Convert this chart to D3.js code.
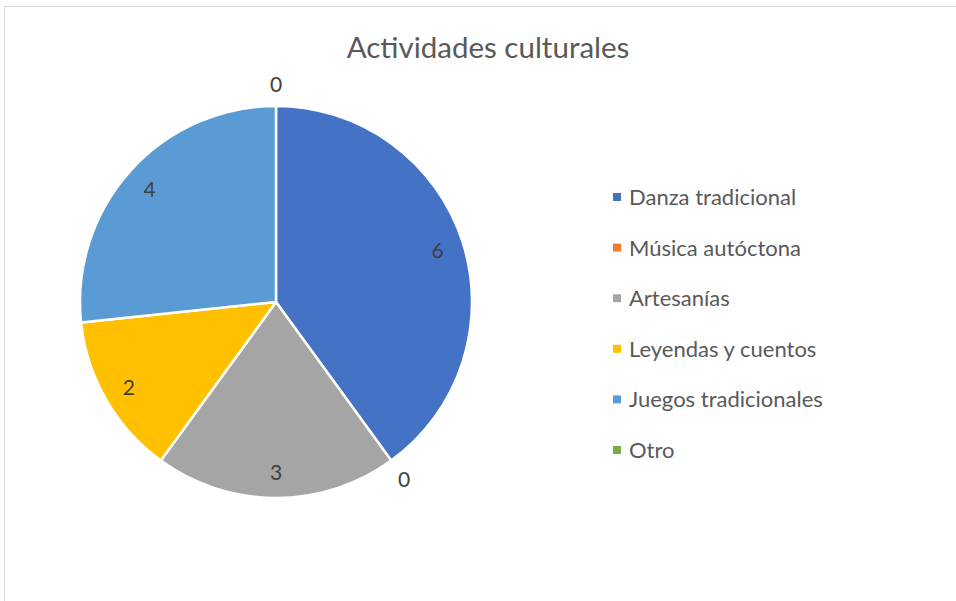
<!doctype html>
<html lang="es">
  <head>
    <meta charset="UTF-8" />
    <title>Actividades culturales</title>
    <script src="https://d3js.org/d3.v7.min.js"></script>
    <style>
      html,
      body {
        margin: 0;
        padding: 0;
        background: #fff;
        overflow: hidden;
      }
      text {
        font-family: Lato, "Liberation Sans", sans-serif;
        fill: #595959;
      }
    </style>
  </head>
  <body>
    <svg id="chart" width="956" height="601"></svg>

    <script>
      // data
      const categories = [
        "Danza tradicional",
        "Música autóctona",
        "Artesanías",
        "Leyendas y cuentos",
        "Juegos tradicionales",
        "Otro",
      ];
      const values = [6, 0, 3, 2, 4, 0];
      const colors = ["#4472c4", "#ed7d31", "#a5a5a5", "#ffc000", "#5b9bd5", "#70ad47"];

      const svg = d3.select("#chart");

      // chart frame (runs off the right and bottom edge)
      svg
        .append("rect")
        .attr("x", 4.5)
        .attr("y", 6.5)
        .attr("width", 1000)
        .attr("height", 700)
        .attr("fill", "none")
        .attr("stroke", "#d9d9d9");

      svg
        .append("text")
        .attr("x", 488)
        .attr("y", 58)
        .attr("text-anchor", "middle")
        .style("font-size", "29.5px")
        .text("Actividades culturales");

      const cx = 276,
        cy = 302,
        radius = 196;

      const data = categories.map((c, i) => ({ name: c, value: values[i], color: colors[i] }));

      const pie = d3.pie().sort(null).value((d) => d.value);
      const arcs = pie(data);

      const arc = d3.arc().innerRadius(0).outerRadius(radius);
      const inLabel = d3.arc().innerRadius(170).outerRadius(170);
      const outLabel = d3.arc().innerRadius(218).outerRadius(218);

      const g = svg.append("g").attr("transform", `translate(${cx},${cy})`);

      g.selectAll("path")
        .data(arcs.filter((d) => d.value > 0))
        .enter()
        .append("path")
        .attr("d", arc)
        .attr("fill", (d) => d.data.color)
        .attr("stroke", "#fff")
        .attr("stroke-width", 2.5)
        .attr("stroke-linejoin", "round");

      // value labels: inside for slices, outside for the empty ones
      g.selectAll("text.lbl")
        .data(arcs)
        .enter()
        .append("text")
        .attr("class", "lbl")
        .attr("transform", (d) => {
          const p = d.value > 0 ? inLabel.centroid(d) : outLabel.centroid(d);
          return `translate(${p[0]},${p[1]})`;
        })
        .attr("text-anchor", "middle")
        .attr("dy", "0.4em")
        .style("font-size", "21px")
        .style("fill", "#404040")
        .text((d) => d.value);

      // legend
      const legendY = d3.scalePoint().domain(categories).range([197, 450]);

      const legend = svg
        .append("g")
        .selectAll("g")
        .data(data)
        .enter()
        .append("g")
        .attr("transform", (d) => `translate(613,${legendY(d.name)})`);

      legend
        .append("rect")
        .attr("x", 0)
        .attr("y", -4)
        .attr("width", 8)
        .attr("height", 8)
        .attr("fill", (d) => d.color);

      legend
        .append("text")
        .attr("x", 16)
        .attr("dy", "0.36em")
        .style("font-size", "22px")
        .text((d) => d.name);
    </script>
  </body>
</html>
